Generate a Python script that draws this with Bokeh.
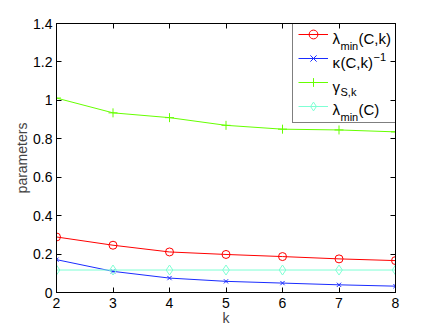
from bokeh.plotting import figure
from bokeh.models import (Range1d, FixedTicker, LinearAxis, Legend, LegendItem, Label)
from bokeh.embed import file_html
from bokeh.resources import INLINE

# ---- data ----
k_values = [2, 3, 4, 5, 6, 7, 8]
lam_min_Ck = [0.289, 0.246, 0.211, 0.198, 0.187, 0.175, 0.166]
kappa_inv = [0.171, 0.110, 0.075, 0.058, 0.049, 0.040, 0.033]
gamma_Sk = [1.012, 0.935, 0.910, 0.870, 0.850, 0.846, 0.836]
lam_min_C = [0.117, 0.117, 0.117, 0.117, 0.117, 0.117, 0.117]

x_ticks = [2, 3, 4, 5, 6, 7, 8]
y_ticks = [0, 0.2, 0.4, 0.6, 0.8, 1.0, 1.2, 1.4]
y_tick_labels = ["0", "0.2", "0.4", "0.6", "0.8", "1", "1.2", "1.4"]

FONT = "Liberation Sans"

p = figure(width=436, height=328, output_backend="svg", toolbar_location=None,
           x_range=Range1d(2, 8), y_range=Range1d(0, 1.4),
           min_border_left=56, min_border_right=41, min_border_top=23, min_border_bottom=36,
           x_axis_location=None, y_axis_location=None)
p.grid.visible = False
p.outline_line_color = "black"
p.background_fill_color = "white"
p.border_fill_color = "white"

def style_axis(ax, ticks, show_labels):
    ax.ticker = FixedTicker(ticks=ticks)
    ax.minor_tick_line_color = None
    ax.major_tick_in = 5
    ax.major_tick_out = 0
    ax.axis_line_color = "black"
    ax.major_tick_line_color = "black"
    ax.major_label_text_font = FONT
    if show_labels:
        ax.major_label_text_color = "black"
        ax.major_label_text_font_size = "14px"
        ax.major_label_standoff = 4
    else:
        ax.major_label_text_color = None
        ax.major_label_text_font_size = "0px"
        ax.major_label_standoff = 0

bottom = LinearAxis(axis_label="k")
style_axis(bottom, x_ticks, True)
bottom.major_label_standoff = 5
bottom.axis_label_text_font = FONT
bottom.axis_label_text_font_size = "14px"
bottom.axis_label_text_font_style = "normal"
bottom.axis_label_standoff = -1
p.add_layout(bottom, "below")

left = LinearAxis(axis_label="parameters")
style_axis(left, y_ticks, True)
left.major_label_overrides = {t: s for t, s in zip(y_ticks, y_tick_labels)}
left.axis_label_text_font = FONT
left.axis_label_text_font_size = "14px"
left.axis_label_text_font_style = "normal"
left.axis_label_standoff = 0
p.add_layout(left, "left")

top = LinearAxis()
style_axis(top, x_ticks, False)
p.add_layout(top, "above")

right = LinearAxis()
style_axis(right, y_ticks, False)
p.add_layout(right, "right")

series = [
    (lam_min_Ck, "#ff0000", "circle", 8),
    (kappa_inv, "#1a2cff", "x", 6),
    (gamma_Sk, "#66ff00", "cross", 9),
    (lam_min_C, "#7fffd4", "diamond", 10),
]
items = []
for ys, color, marker, size in series:
    ln = p.line(k_values, ys, line_color=color, line_width=1)
    sc = p.scatter(k_values, ys, marker=marker, size=size, line_color=color,
                   fill_color=None, line_width=1)
    items.append(LegendItem(label=" ", renderers=[ln, sc]))

legend = Legend(items=items, location=(236, 169), orientation="vertical",
                border_line_color="black", border_line_width=1,
                background_fill_color="white", background_fill_alpha=0.0,
                padding=5, margin=0, spacing=2, glyph_width=30, glyph_height=22,
                label_height=22, label_width=58, label_standoff=5,
                label_text_font_size="10px", label_text_color=None)
p.add_layout(legend, "center")

# legend texts with sub/superscripts (screen units, relative to frame bottom-left)
def lab(x, y, text, size, align="left"):
    p.add_layout(Label(x=x, y=y, x_units="screen", y_units="screen", text=text,
                       text_font=FONT, text_font_size=size, text_color="black",
                       text_baseline="alphabetic", text_align=align))

b1, b2, b3, b4 = 254, 230, 206.5, 183
lab(276, b1, "λ", "15px"); lab(284, b1 - 7, "min", "11px"); lab(302, b1, "(C,k)", "15px")
lab(276, b2, "κ", "15px"); lab(284, b2, "(C,k)", "15px"); lab(317, b2 + 6, "−1", "11px")
lab(276, b3, "γ", "15px"); lab(284, b3 - 6, "S,k", "11px")
lab(276, b4, "λ", "15px"); lab(284, b4 - 7, "min", "11px"); lab(302, b4, "(C)", "15px")

open("out.html", "w").write(file_html(p, INLINE))
